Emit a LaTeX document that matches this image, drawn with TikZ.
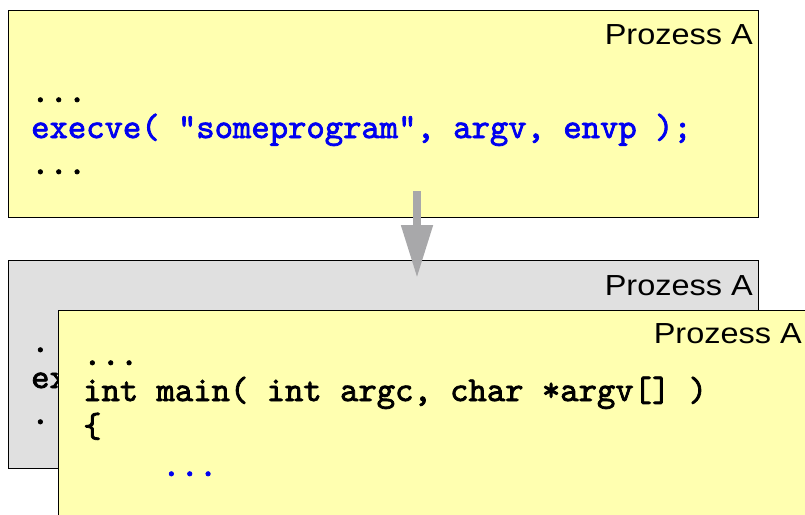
\documentclass[tikz,border=0pt]{standalone}
\usepackage{fontspec}
\usepackage{graphicx}
\setsansfont{Liberation Sans}
\newfontfamily\codefont{lmmono10-regular.otf}[FakeBold=2.2]
\usetikzlibrary{arrows.meta}
\definecolor{boxyellow}{RGB}{255,255,176}
\definecolor{boxgray}{RGB}{224,224,224}
\definecolor{arrowgray}{RGB}{168,168,170}
\definecolor{codeblue}{RGB}{0,0,240}
\tikzset{
  procbox/.style={draw=black, line width=1.3pt, anchor=north west, inner sep=0pt},
  title/.style={anchor=base east, inner sep=0pt, font=\fontsize{29}{34}\selectfont\sffamily},
  code/.style={anchor=base west, inner sep=0pt, font=\fontsize{34.95}{36}\selectfont\codefont},
  bluecode/.style={code, text=codeblue},
  bigarrow/.style={draw=arrowgray, line width=8pt, -{Triangle[width=30pt,length=53pt]}}
}
\newcommand{\ptitle}{\scalebox{1.12}[1]{Prozess A}}
\begin{document}
\begin{tikzpicture}[x=1pt,y=-1pt]
\path[use as bounding box] (0,0) rectangle (805,514);
\clip (0,0) rectangle (805,514);
% top box
\node[procbox, fill=boxyellow, minimum width=750pt, minimum height=207pt] (top) at (8,10) {};
\node[title] (toptitle) at (753,44) {\ptitle};
\node[code] (top1) at (31,102) {...};
\node[bluecode] (top2) at (31,138) {execve( "someprogram", argv, envp );};
\node[code] (top3) at (31,174) {...};
% gray box
\node[procbox, fill=boxgray, minimum width=750pt, minimum height=208pt] (mid) at (8,260) {};
\node[title] (midtitle) at (753,295) {\ptitle};
\begin{scope}
\clip (8,260) rectangle (58,468);
\node[code] (mid1) at (31,352) {.};
\node[code] (mid2) at (31,388) {ex};
\node[code] (mid3) at (31,424) {.};
\end{scope}
% arrow
\coordinate (as) at (417,191);
\coordinate (ae) at (417,278);
\draw[bigarrow] (as) -- (ae);
% front box
\node[procbox, fill=boxyellow, minimum width=780pt, minimum height=230pt] (front) at (58,310) {};
\node[title] (fronttitle) at (802,343) {\ptitle};
\node[code] (f1) at (83,365) {...};
\node[code] (f2) at (83,401) {int main( int argc, char *argv[] )};
\node[code] (f3) at (83,437) {\{};
\node[bluecode] (f4) at (162,476) {...};
\end{tikzpicture}
\end{document}
